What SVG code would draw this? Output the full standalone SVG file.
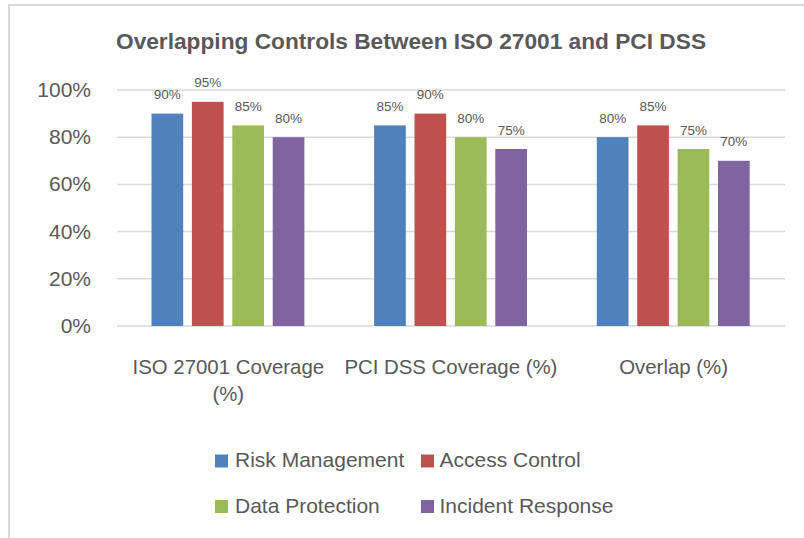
<svg xmlns="http://www.w3.org/2000/svg" width="804" height="538" viewBox="0 0 804 538">
<style>
text { font-family: "Liberation Sans", Arial, sans-serif; fill: #595959; }
.title { font-size: 22.7px; font-weight: bold; text-anchor: middle; }
.tick { font-size: 21px; text-anchor: end; }
.cat { font-size: 20.4px; text-anchor: middle; }
.dl { font-size: 13.5px; text-anchor: middle; }
.leg { font-size: 21px; }
.grid { stroke: #d9d9d9; stroke-width: 1.5; fill: none; }
.s1 { fill: #4F81BD; }
.s2 { fill: #C0504D; }
.s3 { fill: #9BBB59; }
.s4 { fill: #8064A2; }
</style>
<rect x="0" y="0" width="804" height="538" fill="#ffffff"/>
<path d="M9,538 V5 H804" fill="none" stroke="#d9d9d9" stroke-width="2"/>
<text class="title" x="411" y="49.3">Overlapping Controls Between ISO 27001 and PCI DSS</text>
<g id="gridlines">
<line class="grid" x1="117" y1="90" x2="785" y2="90"/>
<line class="grid" x1="117" y1="137.2" x2="785" y2="137.2"/>
<line class="grid" x1="117" y1="184.4" x2="785" y2="184.4"/>
<line class="grid" x1="117" y1="231.6" x2="785" y2="231.6"/>
<line class="grid" x1="117" y1="278.8" x2="785" y2="278.8"/>
<line class="grid" x1="117" y1="326" x2="785" y2="326"/>
</g>
<g id="y-axis">
<text class="tick" x="91" y="97">100%</text>
<text class="tick" x="91" y="144.2">80%</text>
<text class="tick" x="91" y="191.4">60%</text>
<text class="tick" x="91" y="238.6">40%</text>
<text class="tick" x="91" y="285.8">20%</text>
<text class="tick" x="91" y="333">0%</text>
</g>
<g id="risk-management">
<rect class="s1" x="151.5" y="113.6" width="31.7" height="212.4"/>
<rect class="s1" x="374.1" y="125.4" width="31.7" height="200.6"/>
<rect class="s1" x="596.8" y="137.2" width="31.7" height="188.8"/>
<text class="dl" x="167.35" y="99.1">90%</text>
<text class="dl" x="389.95" y="110.9">85%</text>
<text class="dl" x="612.65" y="122.7">80%</text>
</g>
<g id="access-control">
<rect class="s2" x="191.9" y="101.8" width="31.7" height="224.2"/>
<rect class="s2" x="414.5" y="113.6" width="31.7" height="212.4"/>
<rect class="s2" x="637.2" y="125.4" width="31.7" height="200.6"/>
<text class="dl" x="207.75" y="87.3">95%</text>
<text class="dl" x="430.35" y="99.1">90%</text>
<text class="dl" x="653.05" y="110.9">85%</text>
</g>
<g id="data-protection">
<rect class="s3" x="232.3" y="125.4" width="31.7" height="200.6"/>
<rect class="s3" x="454.9" y="137.2" width="31.7" height="188.8"/>
<rect class="s3" x="677.6" y="149" width="31.7" height="177"/>
<text class="dl" x="248.15" y="110.9">85%</text>
<text class="dl" x="470.75" y="122.7">80%</text>
<text class="dl" x="693.45" y="134.5">75%</text>
</g>
<g id="incident-response">
<rect class="s4" x="272.7" y="137.2" width="31.7" height="188.8"/>
<rect class="s4" x="495.3" y="149" width="31.7" height="177"/>
<rect class="s4" x="718" y="160.8" width="31.7" height="165.2"/>
<text class="dl" x="288.55" y="122.7">80%</text>
<text class="dl" x="511.15" y="134.5">75%</text>
<text class="dl" x="733.85" y="146.3">70%</text>
</g>
<g id="x-axis">
<text class="cat" x="228.3" y="374">ISO 27001 Coverage</text>
<text class="cat" x="228.3" y="401">(%)</text>
<text class="cat" x="450.9" y="374">PCI DSS Coverage (%)</text>
<text class="cat" x="673.6" y="374">Overlap (%)</text>
</g>
<g id="legend">
<rect class="s1" x="215" y="454.5" width="13" height="13"/>
<text class="leg" x="235" y="467">Risk Management</text>
<rect class="s2" x="421" y="454.5" width="13" height="13"/>
<text class="leg" x="439.5" y="467">Access Control</text>
<rect class="s3" x="215" y="500" width="13" height="13"/>
<text class="leg" x="235" y="512.5">Data Protection</text>
<rect class="s4" x="421" y="500" width="13" height="13"/>
<text class="leg" x="439.5" y="512.5">Incident Response</text>
</g>
</svg>
